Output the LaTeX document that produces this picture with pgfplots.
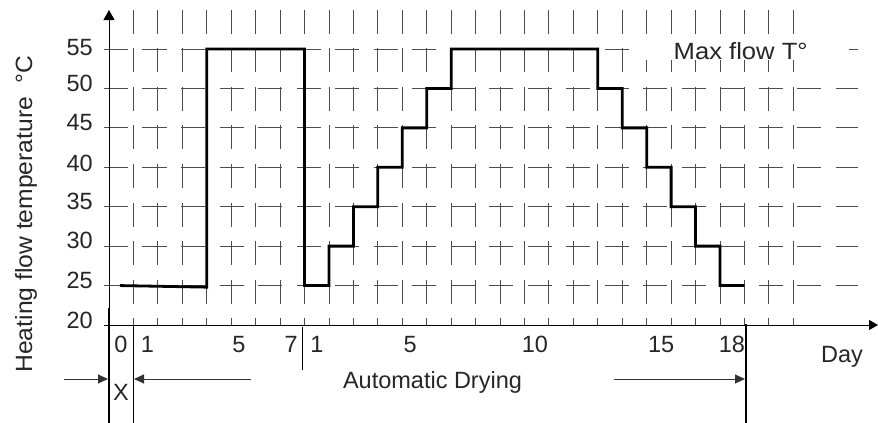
\documentclass[border=0pt]{standalone}
\usepackage{pgfplots}
\pgfplotsset{compat=1.18}
\usepackage{fontspec}
\setmainfont{Liberation Sans}
\usetikzlibrary{arrows.meta}
\begin{document}
\fontsize{23.5bp}{28bp}\selectfont
\begin{tikzpicture}
\useasboundingbox (0,0) rectangle (878bp,-423bp);
\begin{axis}[
  at={(109bp,-325bp)}, anchor=south west,
  x=24.44bp, y=7.886bp,
  xmin=0, xmax=31.46, ymin=20, ymax=60,
  clip=false,
  axis line style={draw=none},
  major tick length=0pt,
  xtick={0.49,1.575,5.32,7.45,8.51,12.32,17.43,22.59,25.49},
  xticklabels={0,1,5,7,1,5,10,15,18},
  ytick={20.57,25.64,30.78,35.72,40.54,45.62,50.62,55.19},
  yticklabels={20,25,30,35,40,45,50,55},
  xticklabel style={anchor=base, inner sep=0pt, yshift=-27bp},
  yticklabel style={anchor=east, inner sep=0pt, xshift=-16bp},
  tick label style={font=\fontsize{23.5bp}{28bp}\selectfont, text=black!85},
  /pgf/number format/assume math mode=true,
]
\pgfplotsinvokeforeach{1,...,28}{
  \draw[black!70, line width=0.9bp, dash pattern=on 24bp off 14.6bp] (axis cs:#1,60) -- (axis cs:#1,20);
}
\pgfplotsinvokeforeach{25,30,...,55}{
  \draw[black!70, line width=0.9bp, dash pattern=on 24bp off 14.5bp] (axis cs:-0.2046,#1) -- (axis cs:30.65,#1);
}
\addplot[black, line width=2.8bp, line join=miter] coordinates {
(0.45,25) (4,24.8) (4,55) (8,55) (8,25) (9,25) (9,30) (10,30) (10,35) (11,35) (11,40) (12,40) (12,45) (13,45) (13,50) (14,50) (14,55) (20,55) (20,50) (21,50) (21,45) (22,45) (22,40) (23,40) (23,35) (24,35) (24,30) (25,30) (25,25) (26,25)
};
\end{axis}
\begin{scope}[x=1bp,y=-1bp]
\fill[white] (635,38) rectangle (849,60);
\node[anchor=base west, inner sep=0, text=black!85, font=\addfontfeatures{FakeStretch=1.09}] at (673.5,59) {Max flow T°};
\draw[black, line width=1bp, -{Triangle[length=10bp,width=11bp]}] (109,325) -- (109,10);
\draw[black, line width=1bp, -{Triangle[length=9bp,width=10bp]}] (104,325) -- (878,325);
\draw[line width=2bp] (109,308) -- (109,423);
\draw[line width=1bp] (133,325) -- (133,423);
\draw[line width=2bp] (746,324) -- (746,423);
\draw[line width=1bp] (302,327) -- (302,370);
\draw[black!80, line width=1bp, -{Triangle[length=10bp,width=9bp]}] (64,379) -- (108,379);
\draw[black!80, line width=1bp, -{Triangle[length=10bp,width=9bp]}] (251,379) -- (134,379);
\draw[black!80, line width=1bp, -{Triangle[length=10bp,width=9bp]}] (614,379) -- (745,379);
\node[anchor=base, inner sep=0, text=black!85] at (121,400) {X};
\node[anchor=base, inner sep=0, text=black!85] at (432.5,388) {Automatic Drying};
\node[anchor=base, inner sep=0, text=black!85] at (842,362) {Day};
\node[anchor=base, inner sep=0, rotate=90, text=black!85, font=\addfontfeatures{FakeStretch=1.05}] at (32,214) {Heating flow temperature\ \ °C};
\end{scope}
\end{tikzpicture}
\end{document}
